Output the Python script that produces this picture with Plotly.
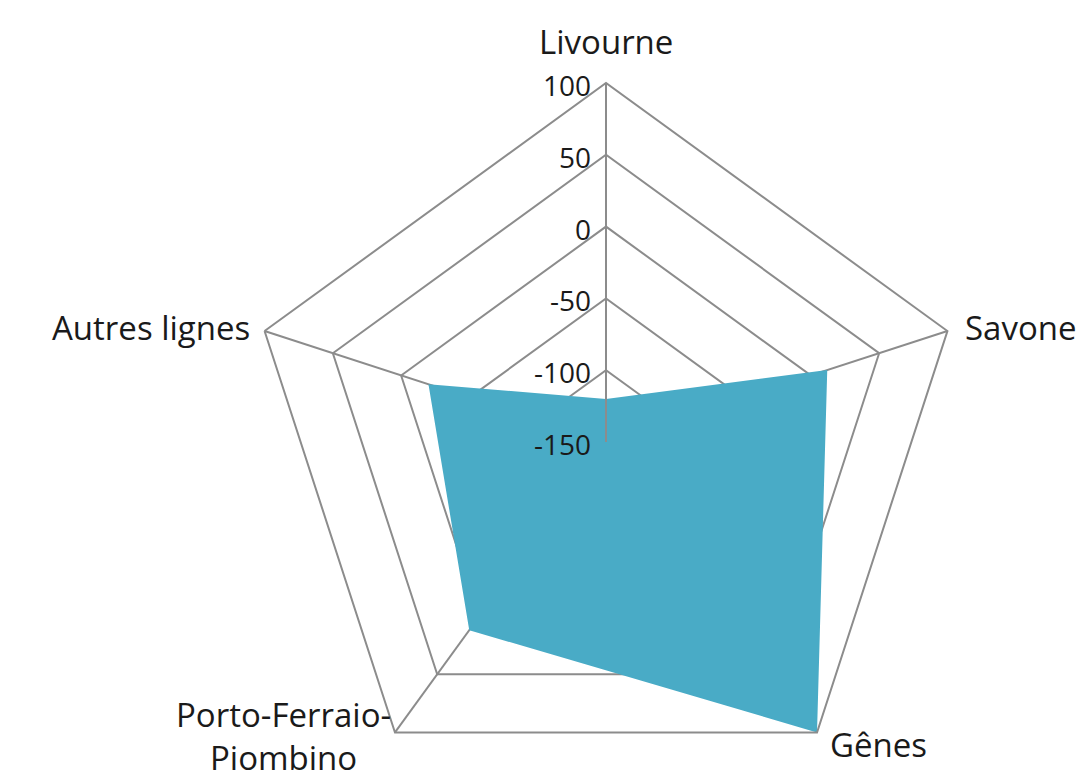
import numpy as np
import plotly.graph_objects as go

# ports (clockwise from top) and values
ports = ["Livourne", "Savone", "Gênes", "Porto-Ferraio-Piombino", "Autres lignes"]
port_labels = ["Livourne", "Savone", "Gênes", "Porto-Ferraio-<br>Piombino", "Autres lignes"]
values = [-120, 12, 100, 12, -20]
radial_ticks = [-150, -100, -50, 0, 50, 100]

grid_col = "#8c8c8c"
fill_col = "rgb(73,171,198)"
text_col = "#1a1a1a"

W, H = 1086, 850
cx, cy, rad = 598, 434, 359  # centre of the web in figure pixels, radius
r_min, r_max = radial_ticks[0], radial_ticks[-1]

fig = go.Figure()
fig.add_trace(go.Scatterpolar(
    r=values + values[:1],
    theta=ports + ports[:1],
    fill="toself",
    fillcolor=fill_col,
    mode="lines",
    line=dict(width=0, color=fill_col),
    hoverinfo="r+theta",
))


def paper(px, py):
    return px / W, 1 - py / H


# category labels, placed off the outer vertices
# (xanchor, yanchor, xshift, yshift) for each label
label_style = [
    ("center", "middle", 0, 42),
    ("left", "middle", 16, 4),
    ("left", "middle", 11, -12),
    ("right", "middle", -2, -4),
    ("right", "middle", -13, 4),
]
for i, (lab, st) in enumerate(zip(port_labels, label_style)):
    ang = np.radians(90 - 360 / len(ports) * i)
    x, y = paper(cx + rad * np.cos(ang), cy - rad * np.sin(ang))
    fig.add_annotation(
        x=x, y=y, xref="paper", yref="paper", text=lab, showarrow=False,
        xanchor=st[0], yanchor=st[1], xshift=st[2], yshift=st[3], align="center",
        font=dict(size=33, color=text_col),
    )

# radial tick labels, left of the Livourne spoke
for v in radial_ticks:
    x, y = paper(cx, cy - rad * (v - r_min) / (r_max - r_min))
    fig.add_annotation(
        x=x, y=y, xref="paper", yref="paper", text=str(v), showarrow=False,
        xanchor="right", yanchor="middle", xshift=-13, yshift=-2,
        font=dict(size=28, color=text_col),
    )

fig.update_layout(
    width=W,
    height=H,
    margin=dict(l=0, r=0, t=0, b=0),
    paper_bgcolor="white",
    showlegend=False,
    font=dict(family="Open Sans, Liberation Sans, sans-serif", size=28, color=text_col),
    polar=dict(
        domain=dict(x=[(cx - rad) / W, (cx + rad) / W],
                    y=[(H - cy - rad) / H, (H - cy + rad) / H]),
        bgcolor="white",
        gridshape="linear",
        radialaxis=dict(
            range=[r_min, r_max],
            tickvals=radial_ticks,
            angle=90,
            showline=True,
            linecolor=grid_col,
            linewidth=2,
            gridcolor=grid_col,
            gridwidth=2,
            ticks="",
            showticklabels=False,
        ),
        angularaxis=dict(
            rotation=90,
            direction="clockwise",
            linecolor=grid_col,
            linewidth=2,
            gridcolor=grid_col,
            gridwidth=2,
            ticks="",
            showticklabels=False,
        ),
    ),
)

fig.write_html("out.html")
